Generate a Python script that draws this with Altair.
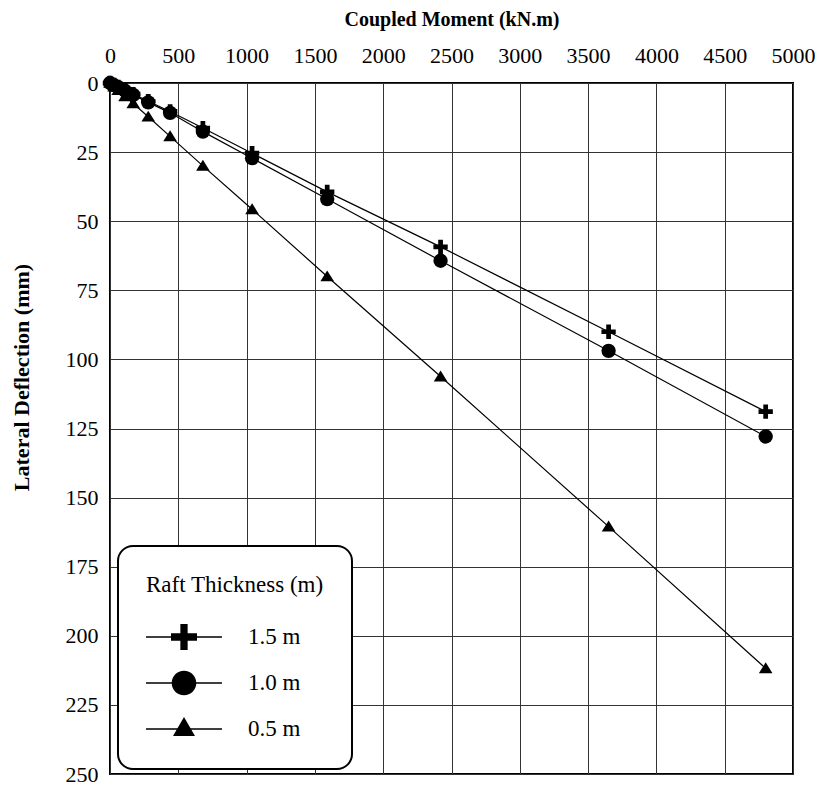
import altair as alt
import pandas as pd

# Coupled moment (kN.m) values
moment = [0, 30, 60, 110, 170, 280, 440, 680, 1040, 1590, 2420, 3650, 4800]
# Lateral deflection (mm) for each raft thickness
defl_15 = [0, 0.7, 1.4, 2.6, 4.0, 6.6, 10.3, 16.3, 25.4, 39.4, 59.3, 90.0, 118.9]
defl_10 = [0, 0.8, 1.5, 2.8, 4.3, 7.0, 10.8, 17.6, 27.2, 42.0, 64.3, 96.9, 127.9]
defl_05 = [0, 1.3, 2.6, 4.8, 7.4, 12.2, 19.3, 30.0, 45.7, 70.0, 106.2, 160.5, 211.8]

series_names = ["1.5 m", "1.0 m", "0.5 m"]
x_ticks = list(range(0, 5001, 500))
y_ticks = list(range(0, 251, 25))

rows = []
for name, vals in zip(series_names, [defl_15, defl_10, defl_05]):
    for m, d in zip(moment, vals):
        rows.append({"moment": m, "deflection": d, "series": name})
df = pd.DataFrame(rows)

FONT = "Liberation Serif"

# marker shapes for the plot
plus_path = "M-1,-0.33H-0.33V-1H0.33V-0.33H1V0.33H0.33V1H-0.33V0.33H-1Z"
tri_path = "M0,-0.85L0.95,0.68H-0.95Z"

# legend symbols: line segment + marker (unit = 13 px)
line_seg = "M-2.923,-0.058H2.923V0.058H-2.923Z"
leg_plus = line_seg + "M-1,-0.28H-0.28V-1H0.28V-0.28H1V0.28H0.28V1H-0.28V0.28H-1Z"
leg_circle = line_seg + "M-0.946,0A0.946,0.946,0,1,1,0.946,0A0.946,0.946,0,1,1,-0.946,0Z"
leg_tri = line_seg + "M0,-0.923L0.846,0.538H-0.846Z"

x_enc = alt.X("moment:Q",
              scale=alt.Scale(domain=[0, 5000], nice=False),
              axis=alt.Axis(orient="top", values=x_ticks, format="d", title="Coupled Moment (kN.m)",
                            grid=True, ticks=False, tickSize=0, domain=False,
                            labelOverlap=False, labelFlush=False,
                            labelFontSize=22, labelPadding=16, labelColor="black",
                            titleFontSize=20, titleFontWeight="bold", titlePadding=15,
                            titleColor="black", labelFont=FONT, titleFont=FONT))
y_enc = alt.Y("deflection:Q",
              scale=alt.Scale(domain=[0, 250], reverse=True, nice=False),
              axis=alt.Axis(orient="left", values=y_ticks, format="d", title="Lateral Deflection (mm)",
                            grid=True, ticks=False, tickSize=0, domain=False,
                            labelOverlap=False, labelFlush=False,
                            labelFontSize=22, labelPadding=12, labelColor="black",
                            titleFontSize=22, titleFontWeight="bold", titlePadding=32,
                            titleY=294,
                            titleColor="black", labelFont=FONT, titleFont=FONT))

base = alt.Chart(df)

lines = base.mark_line(color="black", strokeWidth=1.2).encode(
    x=x_enc, y=y_enc, detail="series:N"
)

points = base.mark_point(filled=True, color="black", opacity=1, size=205).encode(
    x=x_enc, y=y_enc,
    shape=alt.Shape("series:N",
                    scale=alt.Scale(domain=series_names, range=[plus_path, "circle", tri_path]),
                    legend=None),
)

legend_layer = base.transform_filter("false").mark_point(
    filled=True, color="black", opacity=1
).encode(
    x=x_enc, y=y_enc,
    shape=alt.Shape("series:N",
                    scale=alt.Scale(domain=series_names, range=[leg_plus, leg_circle, leg_tri]),
                    legend=alt.Legend(
                        title="Raft Thickness (m)", orient="none", legendX=8, legendY=463,
                        padding=28, cornerRadius=15, strokeColor="black",
                        fillColor="white",
                        symbolSize=676, symbolOffset=25, symbolStrokeWidth=0,
                        symbolFillColor="black",
                        labelOffset=51, labelFontSize=23, labelFont=FONT, labelColor="black",
                        titleFontSize=23, titleFont=FONT, titleFontWeight="normal",
                        titleColor="black", titlePadding=27, rowPadding=20,
                    )),
)

chart = alt.layer(lines, points, legend_layer).resolve_scale(
    shape="independent"
).properties(
    width=683, height=691,
    autosize=alt.AutoSizeParams(type="none"),
    padding={"left": 110, "top": 83, "right": 27, "bottom": 15},
).configure(
    font=FONT,
).configure_view(
    stroke="black", strokeWidth=2
).configure_axis(
    gridColor="#333333", gridOpacity=1, gridWidth=1
).configure_legend(
    strokeWidth=2
)

chart.save("out.html", embed_options={"renderer": "svg", "actions": False})
